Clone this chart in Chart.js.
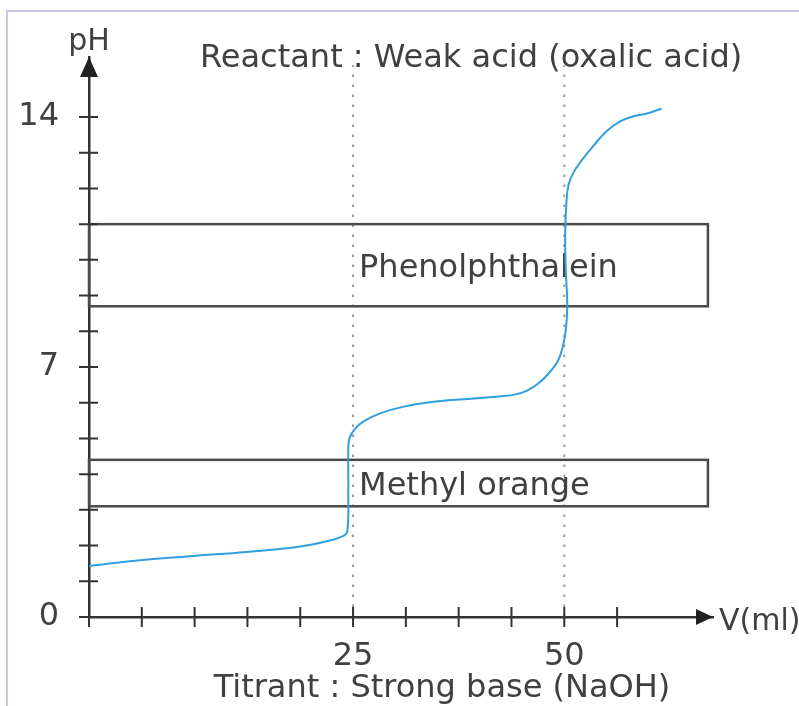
<!DOCTYPE html>
<html>
<head>
<meta charset="utf-8">
<script src="https://cdn.jsdelivr.net/npm/chart.js@4/dist/chart.umd.min.js"></script>
<style>
  html, body { margin: 0; padding: 0; background: #fff; }
  #wrap { position: relative; width: 799px; height: 706px; }
</style>
</head>
<body>
<div id="wrap"><canvas id="titration"></canvas></div>
<script>
// Titration curve: oxalic acid titrated by NaOH (volume in ml, pH)
const volume = [0, 4.8, 9.9, 14.9, 19.7, 22.5, 24.0, 24.45, 24.55, 24.55, 24.65, 25.2, 26.2, 28.2, 31.0, 34.1, 38.1, 42.0, 44.0, 45.6, 47.0, 48.3, 49.4, 50.1, 50.35, 50.2, 50.1, 50.25, 50.5, 51.1, 52.1, 53.4, 55.0, 56.6, 58.2, 59.8, 61.5];
const ph     = [1.43, 1.59, 1.71, 1.82, 1.96, 2.12, 2.26, 2.4, 3.5, 4.6, 5.0, 5.26, 5.47, 5.70, 5.89, 6.01, 6.10, 6.17, 6.22, 6.34, 6.55, 6.86, 7.25, 7.9, 8.7, 9.6, 10.6, 11.6, 12.1, 12.45, 12.8, 13.18, 13.6, 13.88, 14.02, 14.1, 14.23];

// indicator colour-change ranges
const indicators    = ['Phenolphthalein', 'Methyl orange'];
const indicatorLow  = [8.7, 3.1];
const indicatorHigh = [11.0, 4.4];
const indicatorSpan = [0, 67];   // ml

const equivalence = [25, 50];    // ml
const yLabels     = [0, 7, 14];
const xMaxMl      = 67.6;
const yMax        = 15.68;

// axis is drawn in divisions: 5 ml each up to 25 ml, 6.25 ml each after
const toDiv = ml => ml <= 25 ? ml / 5 : 5 + (ml - 25) / 6.25;
const toMl  = d  => d <= 5 ? d * 5 : 25 + (d - 5) * 6.25;

const FONT = '32px "DejaVu Sans"';
const TEXT = '#404040';
const AXIS = '#333';

const overlay = {
  id: 'overlay',
  beforeDatasetsDraw(chart) {
    const { ctx, scales: { x, y } } = chart;
    ctx.save();
    // dotted lines at the equivalence volumes
    ctx.strokeStyle = '#9a9a9a';
    ctx.lineWidth = 2;
    ctx.setLineDash([2.5, 7.5]);
    equivalence.forEach(v => {
      const px = x.getPixelForValue(toDiv(v));
      ctx.beginPath();
      ctx.moveTo(px, y.getPixelForValue(0));
      ctx.lineTo(px, y.getPixelForValue(15.45));
      ctx.stroke();
    });
    ctx.setLineDash([]);

    // indicator range boxes
    ctx.strokeStyle = '#4a4a4a';
    ctx.lineWidth = 2.5;
    ctx.font = FONT;
    ctx.fillStyle = TEXT;
    ctx.textBaseline = 'alphabetic';
    indicators.forEach((name, i) => {
      const l = x.getPixelForValue(toDiv(indicatorSpan[0]));
      const r = x.getPixelForValue(toDiv(indicatorSpan[1]));
      const t = y.getPixelForValue(indicatorHigh[i]);
      const b = y.getPixelForValue(indicatorLow[i]);
      ctx.strokeRect(l, t, r - l, b - t);
      ctx.fillText(name, x.getPixelForValue(toDiv(25)) + 6, (t + b) / 2 + 11.5);
    });
    ctx.restore();
  },
  afterDraw(chart) {
    const { ctx, scales: { x, y } } = chart;
    const ax = x.getPixelForValue(0), ay = y.getPixelForValue(0);
    ctx.save();

    // tick marks crossing the axes
    ctx.strokeStyle = AXIS;
    ctx.lineWidth = 2;
    ctx.beginPath();
    y.ticks.forEach(t => {
      if (!Number.isInteger(t.value) || t.value > 14) return;
      const py = y.getPixelForValue(t.value);
      ctx.moveTo(ax - 10, py); ctx.lineTo(ax + 9, py);
    });
    x.ticks.forEach(t => {
      if (!Number.isInteger(t.value) || t.value > 10) return;
      const px = x.getPixelForValue(t.value);
      ctx.moveTo(px, ay - 10); ctx.lineTo(px, ay + 10);
    });
    ctx.stroke();

    // arrow heads
    ctx.fillStyle = '#222';
    const top = chart.chartArea.top, right = chart.chartArea.right;
    ctx.beginPath();
    ctx.moveTo(ax, top); ctx.lineTo(ax - 9, top + 20); ctx.lineTo(ax + 9, top + 20);
    ctx.closePath(); ctx.fill();
    ctx.beginPath();
    ctx.moveTo(right, ay); ctx.lineTo(right - 17, ay - 8); ctx.lineTo(right - 17, ay + 8);
    ctx.closePath(); ctx.fill();

    // captions
    ctx.fillStyle = TEXT;
    ctx.textBaseline = 'alphabetic';
    ctx.font = '30px "DejaVu Sans"';
    ctx.textAlign = 'center';
    ctx.fillText('pH', ax, 50);
    ctx.textAlign = 'left';
    ctx.fillText('V(ml)', 719, 630);
    ctx.font = FONT;
    ctx.fillText('Reactant : Weak acid (oxalic acid)', 200, 67);
    ctx.textAlign = 'center';
    ctx.fillText('Titrant : Strong base (NaOH)', 442, 697);

    // frame
    ctx.strokeStyle = '#cbc7e7';
    ctx.lineWidth = 2;
    ctx.beginPath();
    ctx.moveTo(7, 706); ctx.lineTo(7, 11); ctx.lineTo(799, 11);
    ctx.stroke();
    ctx.restore();
  }
};

new Chart(document.getElementById('titration'), {
  type: 'line',
  data: {
    datasets: [{
      data: volume.map((v, i) => ({ x: toDiv(v), y: ph[i] })),
      borderColor: '#2f9fe0',
      borderWidth: 2,
      pointRadius: 0,
      tension: 0.4,
      fill: false,
    }],
  },
  options: {
    responsive: true, maintainAspectRatio: false,
    animation: false,
    layout: { padding: { left: 0, right: 86, top: 57, bottom: 0 } },
    plugins: { legend: { display: false }, tooltip: { enabled: false } },
    scales: {
      x: {
        type: 'linear', min: 0, max: toDiv(xMaxMl),
        grid: { display: false },
        border: { display: true, color: AXIS, width: 2.5 },
        ticks: {
          stepSize: 1, padding: 12, color: TEXT, maxRotation: 0, autoSkip: false,
          font: { family: 'DejaVu Sans', size: 32 },
          callback: v => Number.isInteger(v) && equivalence.includes(toMl(v)) ? String(toMl(v)) : '',
        },
        afterFit: s => { s.height = 89; },
      },
      y: {
        min: 0, max: yMax,
        grid: { display: false, drawTicks: false },
        border: { display: true, color: AXIS, width: 2.5 },
        ticks: {
          stepSize: 1, padding: 30, color: TEXT, autoSkip: false,
          font: { family: 'DejaVu Sans', size: 32 },
          callback: v => yLabels.includes(v) ? String(v) : '',
        },
        afterFit: s => { s.width = 89; },
      },
    },
  },
  plugins: [overlay],
});
</script>
</body>
</html>
